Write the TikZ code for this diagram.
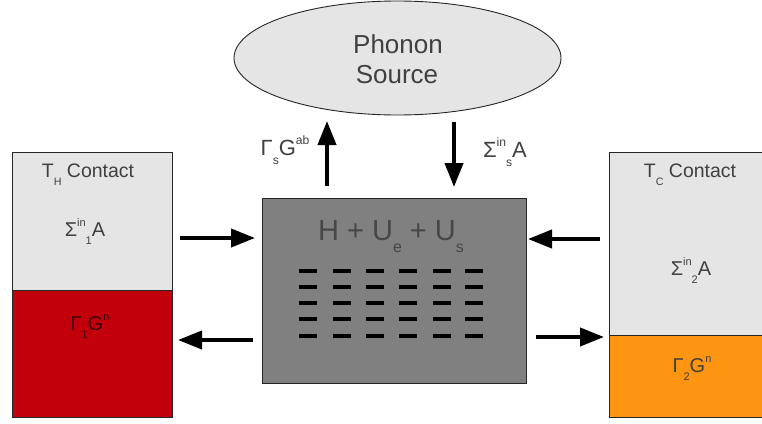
\documentclass[tikz,border=0pt]{standalone}
\usepackage{fontspec}
\setmainfont{Liberation Sans}
\usepackage{graphicx}
\usetikzlibrary{arrows.meta,shapes.geometric}
\definecolor{txt}{HTML}{404040}
\definecolor{lightbox}{HTML}{E5E5E5}
\definecolor{midbox}{HTML}{808080}
\definecolor{hotred}{HTML}{C2000B}
\definecolor{coldorange}{HTML}{FD9412}
\newcommand\lo[1]{\raisebox{-0.42em}{\scalebox{0.55}{#1}}}
\newcommand\hi[1]{\raisebox{0.5em}{\scalebox{0.55}{#1}}}
\begin{document}
\begin{tikzpicture}[x=1pt,y=-1pt,
  panel/.style={draw=black!85, line width=0.9pt, inner sep=0pt, outer sep=0pt},
  lbl/.style={text=txt, inner sep=0pt, anchor=base},
  bigarrow/.style={line width=4pt, -{Triangle[width=18pt,length=24pt]}},
  level/.style={line width=3.6pt, black}
]
\useasboundingbox (0,0) rectangle (762,423);

% left contact
\node[panel, fill=lightbox, minimum width=160pt, minimum height=138pt] (lt) at (92,221) {};
\node[panel, fill=hotred, minimum width=160pt, minimum height=127pt] (lb) at (92,353.5) {};
% right contact
\node[panel, fill=lightbox, minimum width=153pt, minimum height=183pt] (rt) at (685.5,243.5) {};
\node[panel, fill=coldorange, minimum width=153pt, minimum height=82pt] (rb) at (685.5,376) {};
% centre
\node[panel, fill=midbox, minimum width=264pt, minimum height=185pt] (dev) at (394,290.5) {};
% phonon source
\node[ellipse, draw=black!85, line width=0.9pt, fill=lightbox, minimum width=327pt, minimum height=114pt, inner sep=0pt] (ph) at (397.5,58) {};

% labels
\node[lbl, font=\fontsize{19.5}{22}\selectfont] (th) at (88,177) {T\lo{H} Contact};
\node[lbl, font=\fontsize{20}{22}\selectfont] (s1) at (85,236) {Σ\hi{in}\lo{1}A};
\node[lbl, font=\fontsize{20}{22}\selectfont, text=black!70!hotred] (g1) at (90,330) {Γ\lo{1}G\hi{n}};
\node[lbl, font=\fontsize{19.5}{22}\selectfont] (tc) at (690,177) {T\lo{C} Contact};
\node[lbl, font=\fontsize{20}{22}\selectfont] (s2) at (691,275) {Σ\hi{in}\lo{2}A};
\node[lbl, font=\fontsize{20}{22}\selectfont] (g2) at (692,372) {Γ\lo{2}G\hi{n}};
\node[lbl, font=\fontsize{26}{30}\selectfont] (p1) at (398,53) {Phonon};
\node[lbl, font=\fontsize{26}{30}\selectfont] (p2) at (397,83) {Source};
\node[lbl, font=\fontsize{22}{24}\selectfont] (gs) at (285,155) {Γ\lo{s}G\hi{ab}};
\node[lbl, font=\fontsize{22}{24}\selectfont] (ss) at (505,157) {Σ\hi{in}\lo{s}A};
\node[lbl, font=\fontsize{29}{32}\selectfont, text=black!72] (ham) at (391,240) {H + U\lo{e} + U\lo{s}};

% arrow end points
\coordinate (a1s) at (180,238); \coordinate (a1e) at (255,238);
\coordinate (a2s) at (253,340); \coordinate (a2e) at (178,340);
\coordinate (a3s) at (600,239); \coordinate (a3e) at (528,239);
\coordinate (a4s) at (536,337); \coordinate (a4e) at (604,337);
\coordinate (a5s) at (327,186); \coordinate (a5e) at (327,121);
\coordinate (a6s) at (454,122); \coordinate (a6e) at (454,187);
\draw[bigarrow] (a1s) -- (a1e);
\draw[bigarrow] (a2s) -- (a2e);
\draw[bigarrow] (a3s) -- (a3e);
\draw[bigarrow] (a4s) -- (a4e);
\draw[bigarrow] (a5s) -- (a5e);
\draw[bigarrow] (a6s) -- (a6e);

% energy levels
\foreach \x in {308,342,375,408,442,474}{
  \foreach \y in {271,287,303,319,336}{
    \draw[level] (\x-8.8,\y) -- (\x+8.8,\y);
  }
}
\end{tikzpicture}
\end{document}
